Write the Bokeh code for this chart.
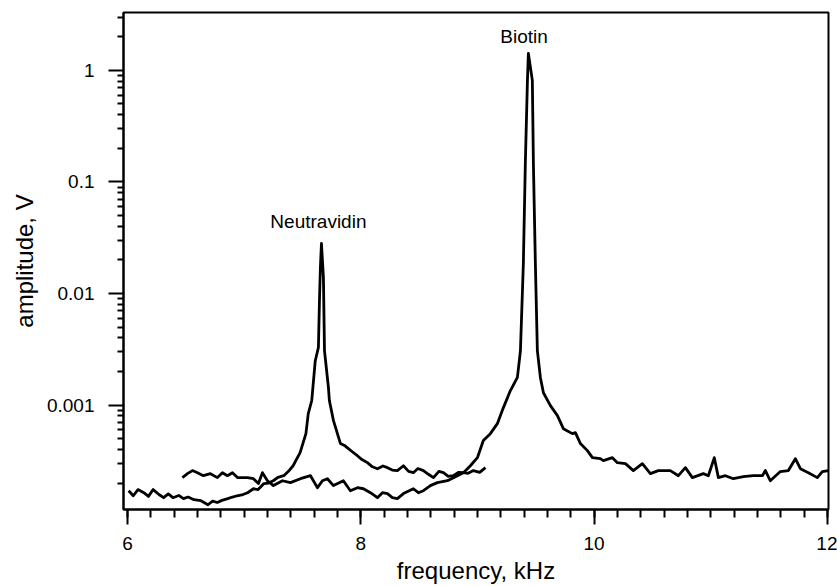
from bokeh.plotting import figure
from bokeh.models import Range1d, FixedTicker, CustomJSTickFormatter, ColumnDataSource
from bokeh.core.properties import value
from bokeh.embed import file_html
from bokeh.resources import INLINE

# Neutravidin sweep (kHz, V)
neut_f = [6.01, 6.05, 6.09, 6.14, 6.18, 6.22, 6.27, 6.31, 6.35, 6.39, 6.44, 6.48, 6.52, 6.57,
          6.63, 6.69, 6.73, 6.77, 6.81, 6.86, 6.90, 6.94, 6.99, 7.03, 7.08, 7.12, 7.17, 7.21,
          7.25, 7.29, 7.34, 7.38, 7.42, 7.48, 7.53, 7.55, 7.58, 7.61, 7.637, 7.646, 7.654,
          7.663, 7.68, 7.689, 7.723, 7.731, 7.766, 7.826, 7.86, 7.894, 7.93, 7.971, 8.01,
          8.057, 8.10, 8.143, 8.19, 8.229, 8.27, 8.314, 8.366, 8.41, 8.451, 8.49, 8.537,
          8.58, 8.623, 8.67, 8.709, 8.75, 8.794, 8.84, 8.88, 8.92, 8.966, 9.02, 9.069]
neut_v = [1.71e-4, 1.54e-4, 1.75e-4, 1.64e-4, 1.52e-4, 1.75e-4, 1.58e-4, 1.48e-4, 1.60e-4,
          1.48e-4, 1.55e-4, 1.45e-4, 1.50e-4, 1.42e-4, 1.39e-4, 1.28e-4, 1.38e-4, 1.34e-4,
          1.40e-4, 1.45e-4, 1.50e-4, 1.54e-4, 1.58e-4, 1.64e-4, 1.78e-4, 1.75e-4, 1.98e-4,
          2.00e-4, 2.10e-4, 2.25e-4, 2.33e-4, 2.55e-4, 2.86e-4, 3.75e-4, 5.55e-4, 8.4e-4,
          1.10e-3, 2.5e-3, 3.28e-3, 8.65e-3, 1.71e-2, 2.81e-2, 1.39e-2, 3.08e-3, 1.435e-3,
          1.10e-3, 7.26e-4, 4.52e-4, 4.35e-4, 4.07e-4, 3.80e-4, 3.52e-4, 3.25e-4, 3.05e-4,
          2.80e-4, 2.69e-4, 2.85e-4, 2.75e-4, 2.62e-4, 2.59e-4, 2.86e-4, 2.55e-4, 2.48e-4,
          2.70e-4, 2.59e-4, 2.40e-4, 2.24e-4, 2.55e-4, 2.48e-4, 2.30e-4, 2.33e-4, 2.50e-4,
          2.48e-4, 2.45e-4, 2.59e-4, 2.50e-4, 2.75e-4]

# Biotin sweep (kHz, V)
bio_f = [6.471, 6.514, 6.557, 6.60, 6.651, 6.711, 6.771, 6.814, 6.857, 6.90, 6.943, 7.029,
         7.08, 7.123, 7.157, 7.20, 7.251, 7.329, 7.397, 7.483, 7.569, 7.629, 7.671, 7.714,
         7.766, 7.851, 7.911, 7.971, 8.023, 8.083, 8.143, 8.186, 8.229, 8.271, 8.314, 8.366,
         8.451, 8.494, 8.537, 8.597, 8.657, 8.743, 8.829, 8.88, 8.94, 9.0, 9.051, 9.111,
         9.171, 9.223, 9.283, 9.343, 9.369, 9.394, 9.411, 9.429, 9.437, 9.471, 9.48, 9.497,
         9.514, 9.54, 9.566, 9.626, 9.686, 9.737, 9.814, 9.84, 9.883, 9.943, 9.986, 10.054,
         10.08, 10.157, 10.2, 10.269, 10.337, 10.414, 10.483, 10.551, 10.654, 10.723, 10.783,
         10.843, 10.937, 10.98, 11.031, 11.066, 11.126, 11.194, 11.28, 11.366, 11.443, 11.469,
         11.511, 11.597, 11.666, 11.726, 11.769, 11.837, 11.914, 11.957, 12.009]
bio_v = [2.24e-4, 2.43e-4, 2.59e-4, 2.48e-4, 2.33e-4, 2.43e-4, 2.24e-4, 2.48e-4, 2.33e-4,
         2.48e-4, 2.24e-4, 2.24e-4, 2.19e-4, 1.98e-4, 2.48e-4, 2.10e-4, 1.90e-4, 2.10e-4,
         2.02e-4, 2.19e-4, 2.33e-4, 1.82e-4, 2.10e-4, 2.19e-4, 1.90e-4, 2.10e-4, 1.71e-4,
         1.82e-4, 1.78e-4, 1.64e-4, 1.48e-4, 1.64e-4, 1.61e-4, 1.48e-4, 1.45e-4, 1.61e-4,
         1.78e-4, 1.64e-4, 1.71e-4, 1.90e-4, 2.02e-4, 2.10e-4, 2.33e-4, 2.48e-4, 2.86e-4,
         3.38e-4, 4.81e-4, 5.55e-4, 6.82e-4, 9.5e-4, 1.35e-3, 1.77e-3, 3.08e-3, 1.86e-2,
         0.147, 0.813, 1.42, 0.813, 0.147, 1.86e-2, 3.08e-3, 1.77e-3, 1.29e-3, 9.9e-4,
         8.05e-4, 6.15e-4, 5.55e-4, 5.66e-4, 4.52e-4, 3.91e-4, 3.38e-4, 3.31e-4, 3.18e-4,
         3.38e-4, 3.05e-4, 2.99e-4, 2.59e-4, 2.99e-4, 2.43e-4, 2.59e-4, 2.59e-4, 2.33e-4,
         2.75e-4, 2.24e-4, 2.43e-4, 2.33e-4, 3.38e-4, 2.24e-4, 2.33e-4, 2.19e-4, 2.29e-4,
         2.33e-4, 2.33e-4, 2.59e-4, 2.10e-4, 2.54e-4, 2.59e-4, 3.31e-4, 2.69e-4, 2.48e-4,
         2.24e-4, 2.54e-4, 2.59e-4]

x_major = [6, 8, 10, 12]
x_minor = [round(6 + 0.2 * i, 1) for i in range(31)]
y_major = [0.001, 0.01, 0.1, 1]
y_minor = [m * 10.0 ** e for e in range(-4, 1) for m in range(2, 10)]

label_text = ["Biotin", "Neutravidin"]
label_x = [9.40, 7.637]
label_y = [2.02, 0.0442]

FONT = "Liberation Sans"

p = figure(width=837, height=586, y_axis_type="log",
           x_range=Range1d(5.966, 12.01), y_range=Range1d(1.16e-4, 3.3),
           output_backend="svg", toolbar_location=None, tools="",
           min_border_left=123, min_border_right=9, min_border_top=12, min_border_bottom=77)

p.grid.visible = False
p.background_fill_color = "white"
p.border_fill_color = "white"
p.outline_line_color = "black"
p.outline_line_width = 2

p.line(neut_f, neut_v, line_color="black", line_width=2.8, line_join="round")
p.line(bio_f, bio_v, line_color="black", line_width=2.8, line_join="round")

src = ColumnDataSource(dict(x=label_x, y=label_y, t=label_text))
p.text(x="x", y="y", text="t", source=src, text_align="center", text_baseline="middle",
       text_font=value(FONT), text_font_size="19px", text_color="black")

for ax in (p.xaxis[0], p.yaxis[0]):
    ax.axis_line_color = "black"
    ax.axis_line_width = 2
    ax.major_tick_line_color = "black"
    ax.minor_tick_line_color = "black"
    ax.major_tick_line_width = 2
    ax.minor_tick_line_width = 2
    ax.major_tick_in = 0
    ax.minor_tick_in = 0
    ax.major_tick_out = 15
    ax.major_label_text_font = FONT
    ax.major_label_text_font_size = "19px"
    ax.major_label_text_color = "black"
    ax.axis_label_text_font = FONT
    ax.axis_label_text_font_size = "24px"
    ax.axis_label_text_font_style = "normal"
    ax.axis_label_text_color = "black"

xa = p.xaxis[0]
xa.ticker = FixedTicker(ticks=x_major, minor_ticks=x_minor)
xa.minor_tick_out = 8
xa.major_label_standoff = 12
xa.axis_label = "frequency, kHz"
xa.axis_label_standoff = 4

ya = p.yaxis[0]
ya.ticker = FixedTicker(ticks=y_major, minor_ticks=y_minor)
ya.formatter = CustomJSTickFormatter(code="return tick.toString();")
ya.minor_tick_out = 6
ya.major_label_standoff = 14
ya.axis_label = "amplitude, V"
ya.axis_label_standoff = 6

open("out.html", "w").write(file_html(p, INLINE))
